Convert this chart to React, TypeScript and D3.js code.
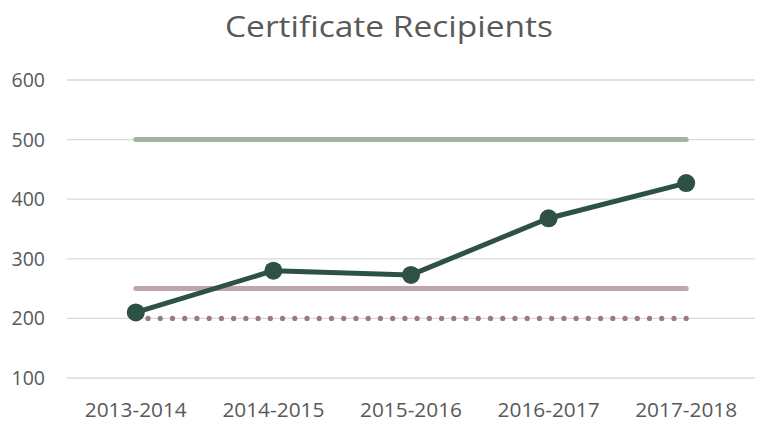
import React from "react";
import * as d3 from "d3";

const categories = ["2013-2014", "2014-2015", "2015-2016", "2016-2017", "2017-2018"];
const recipients = [210, 280, 273, 368, 427];
const goalHigh = [500, 500, 500, 500, 500];
const goalMid = [250, 250, 250, 250, 250];
const baseline = [200, 200, 200, 200, 200];
const yTicks = [100, 200, 300, 400, 500, 600];

const W = 768;
const H = 423;
const margin = { left: 67, right: 13, top: 80, bottom: 45 };

export default function App() {
  const x = d3
    .scaleBand<string>()
    .domain(categories)
    .range([margin.left, W - margin.right]);
  const y = d3.scaleLinear().domain([100, 600]).range([378, 80]);
  const cx = (c: string) => (x(c) ?? 0) + x.bandwidth() / 2;

  const line = d3
    .line<number>()
    .x((_, i) => cx(categories[i]))
    .y((d) => y(d));

  const font = "'Open Sans', sans-serif";

  const dotStart = cx(categories[0]);
  const dotEnd = cx(categories[categories.length - 1]);
  const dotCount = Math.round((dotEnd - dotStart) / 12.2);
  const dots = d3.range(dotCount + 1).map((i) => dotStart + ((dotEnd - dotStart) * i) / dotCount);

  return (
    <svg width={W} height={H} style={{ position: "absolute", left: 0, top: 0 }}>
      <rect width={W} height={H} fill="#fff" />
      <text x={389} y={37} textAnchor="middle" fontFamily={font} fontSize={29} fill="#595959" textLength={328} lengthAdjust="spacingAndGlyphs">
        Certificate Recipients
      </text>
      {yTicks.map((t) => (
        <g key={t}>
          <line x1={margin.left} x2={W - margin.right} y1={y(t)} y2={y(t)} stroke="#d9d9d9" strokeWidth={1.3} />
          <text x={45} y={y(t)} dy="0.36em" textAnchor="end" fontFamily={font} fontSize={19.5} fill="#595959">
            {t}
          </text>
        </g>
      ))}
      {categories.map((c) => (
        <text key={c} x={cx(c)} y={417} textAnchor="middle" fontFamily={font} fontSize={19.5} fill="#595959" textLength={102} lengthAdjust="spacingAndGlyphs">
          {c}
        </text>
      ))}
      <path d={line(goalHigh) ?? ""} fill="none" stroke="#a2b3a0" strokeWidth={5} strokeLinecap="round" />
      <path d={line(goalMid) ?? ""} fill="none" stroke="#bfa6ad" strokeWidth={5} strokeLinecap="round" />
      {dots.map((dx, i) => (
        <circle key={i} cx={dx} cy={y(baseline[0])} r={2.6} fill="#9c7a83" />
      ))}
      <path d={line(recipients) ?? ""} fill="none" stroke="#2d5142" strokeWidth={5} strokeLinejoin="round" />
      {recipients.map((v, i) => (
        <circle key={i} cx={cx(categories[i])} cy={y(v)} r={9} fill="#2d5142" />
      ))}
    </svg>
  );
}
